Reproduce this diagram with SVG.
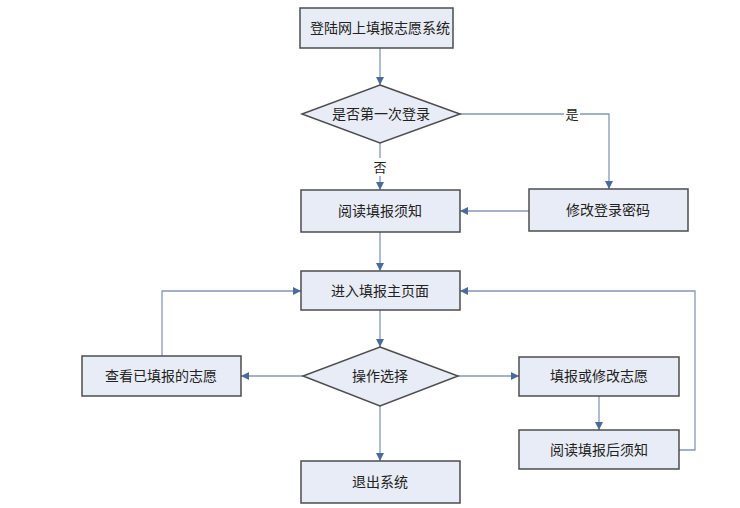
<svg xmlns="http://www.w3.org/2000/svg" width="740" height="508" viewBox="0 0 740 508">
<style>
.box{fill:#e8ecf6;stroke:#4d4d4d;stroke-width:1.5}
.t{font-family:"Liberation Serif","Noto Sans CJK SC",serif;font-size:14px;fill:#222;text-anchor:middle;dominant-baseline:central}
.c{fill:none;stroke:#8497b8;stroke-width:1.3}
.lbl{font-family:"Liberation Serif","Noto Sans CJK SC",serif;font-size:13px;fill:#222;text-anchor:middle;dominant-baseline:central}
</style>
<defs>
<marker id="ah" viewBox="0 0 10 10" refX="10" refY="5" markerWidth="8" markerHeight="8" markerUnits="userSpaceOnUse" orient="auto">
<path d="M0,0 L10,5 L0,10 z" fill="#4a6c9b"/>
</marker>
</defs>
<rect width="740" height="508" fill="#ffffff"/>
<g id="connectors">
<path class="c" d="M380,48 V85" marker-end="url(#ah)"/>
<path class="c" d="M460,114 H609 V189" marker-end="url(#ah)"/>
<path class="c" d="M380,143 V190" marker-end="url(#ah)"/>
<path class="c" d="M529,211 H460" marker-end="url(#ah)"/>
<path class="c" d="M380,232 V271" marker-end="url(#ah)"/>
<path class="c" d="M380,310 V347" marker-end="url(#ah)"/>
<path class="c" d="M303,376 H241" marker-end="url(#ah)"/>
<path class="c" d="M162,356 V291 H301" marker-end="url(#ah)"/>
<path class="c" d="M458,376 H519" marker-end="url(#ah)"/>
<path class="c" d="M599,396 V430" marker-end="url(#ah)"/>
<path class="c" d="M679,450 H695 V291 H460" marker-end="url(#ah)"/>
<path class="c" d="M380,406 V461" marker-end="url(#ah)"/>
<rect x="564" y="106" width="16" height="16" fill="#ffffff"/>
<text class="lbl" x="572" y="114">是</text>
<rect x="372" y="158" width="16" height="18" fill="#ffffff"/>
<text class="lbl" x="380" y="167">否</text>
</g>
<g id="n1"><rect class="box" x="300" y="8" width="153" height="40"/><text class="t" x="380" y="28">登陆网上填报志愿系统</text></g>
<g id="n2"><polygon class="box" points="380,85 460,114 380,143 302,114"/><text class="t" x="381" y="114">是否第一次登录</text></g>
<g id="n3"><rect class="box" x="301" y="190" width="159" height="42"/><text class="t" x="380" y="211">阅读填报须知</text></g>
<g id="n4"><rect class="box" x="529" y="189" width="159" height="42"/><text class="t" x="608" y="210">修改登录密码</text></g>
<g id="n5"><rect class="box" x="301" y="271" width="159" height="39"/><text class="t" x="380" y="291">进入填报主页面</text></g>
<g id="n6"><polygon class="box" points="380,347 458,376 380,406 303,376"/><text class="t" x="380" y="376">操作选择</text></g>
<g id="n7"><rect class="box" x="82" y="356" width="159" height="40"/><text class="t" x="161" y="376">查看已填报的志愿</text></g>
<g id="n8"><rect class="box" x="519" y="357" width="160" height="39"/><text class="t" x="599" y="376">填报或修改志愿</text></g>
<g id="n9"><rect class="box" x="519" y="430" width="160" height="39"/><text class="t" x="599" y="450">阅读填报后须知</text></g>
<g id="n10"><rect class="box" x="301" y="461" width="159" height="42"/><text class="t" x="380" y="482">退出系统</text></g>
</svg>
